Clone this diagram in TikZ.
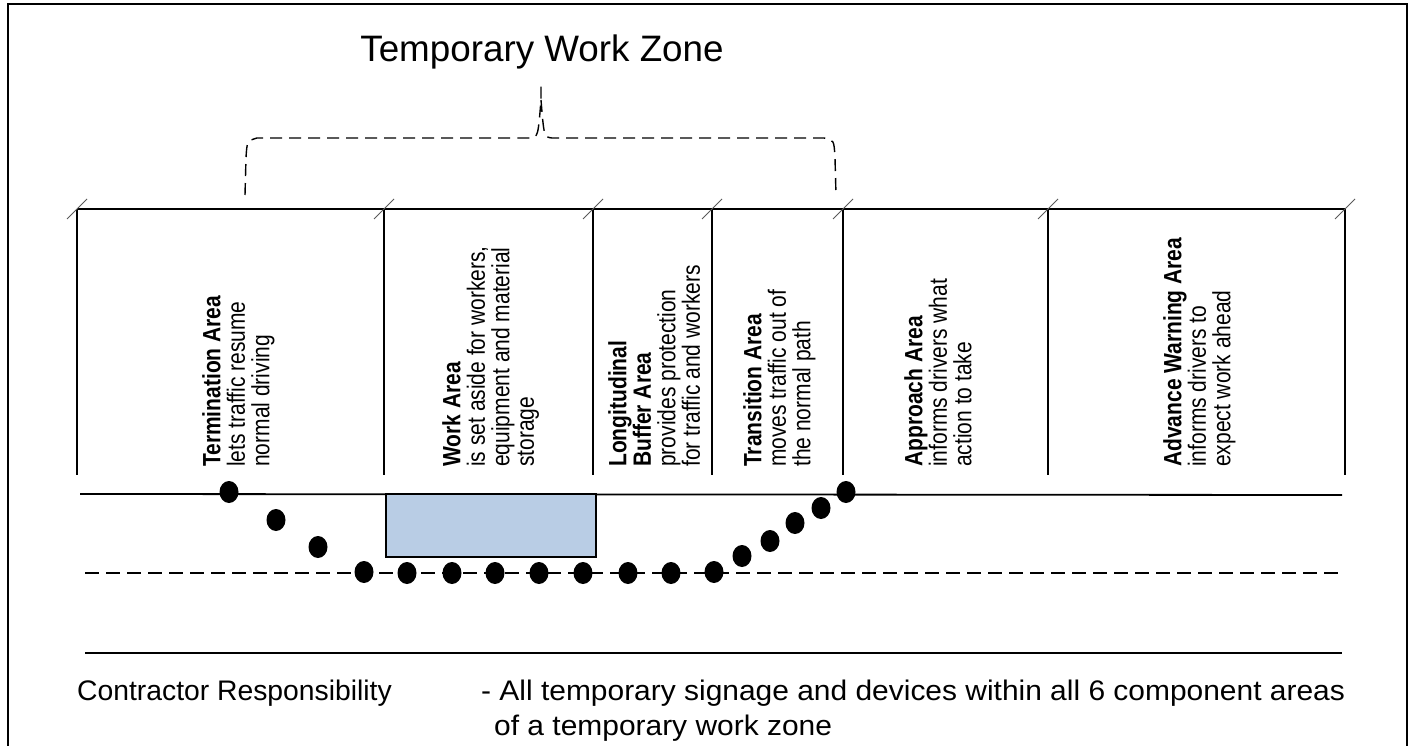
\documentclass[tikz,border=0pt]{standalone}
\usepackage{fontspec}
\setmainfont{Liberation Sans}
\newfontfamily\narrowfont[FakeStretch=0.84]{Liberation Sans}
\newfontfamily\widefont[FakeStretch=1.058]{Liberation Sans}
\usetikzlibrary{shapes.geometric}
\definecolor{workfill}{HTML}{B9CDE5}
\tikzset{
    zone/.style={rotate=90, anchor=north west, inner sep=0pt, align=left,
        font=\narrowfont\fontsize{25}{24.5}\selectfont},
    cone/.style={ellipse, fill=black, inner sep=0pt, minimum width=19pt, minimum height=22pt},
    tick/.style={draw=black!65, line width=1pt},
    road/.style={line width=1.8pt},
    note/.style={anchor=base west, inner sep=0pt, font=\fontsize{28.3}{34}\selectfont}
}
\begin{document}
\begin{tikzpicture}[x=1pt, y=-1pt]
    \useasboundingbox (0,0) rectangle (1411,746);

% frame
    \draw[line width=2.5pt] (8,760) -- (8,4) -- (1407,4) -- (1407,760);

% title and brace
    \node[anchor=base, inner sep=0pt, font=\fontsize{36.8}{40}\selectfont] (title) at (542,62) {Temporary Work Zone};
    \draw[dashed, line width=1.4pt, dash pattern=on 12pt off 7pt]
        (245,195) -- (246,158) .. controls (247,141) .. (257,138) -- (530,138)
        .. controls (538,137) .. (541,100) -- (541,80);
    \draw[dashed, line width=1.4pt, dash pattern=on 12pt off 7pt]
        (541,100) .. controls (544,137) .. (552,138) -- (824,138)
        .. controls (834,140) .. (835,158) -- (836,195);

% top line
    \draw[road] (77,209) -- (1345,209);
% area boundaries
    \draw[road] (77,209) -- (77,475)
                (384,209) -- (384,475)
                (593,209) -- (593,475)
                (712,209) -- (712,475)
                (843,209) -- (843,475)
                (1048,209) -- (1048,475)
                (1345,209) -- (1345,475);
% ticks
    \draw[tick] (67,219) -- (87,199)
                (374,219) -- (394,199)
                (583,219) -- (603,199)
                (702,219) -- (722,199)
                (833,219) -- (853,199)
                (1038,219) -- (1058,199)
                (1335,219) -- (1355,199);

% area labels
    \node[zone] (termination) at (202,467) {\textbf{Termination Area}\\lets traffic resume\\normal driving};
    \node[zone] (work) at (442,467) {\textbf{Work Area}\\is set aside for workers,\\equipment and material\\storage};
    \node[zone] (buffer) at (608,467) {\textbf{Longitudinal}\\\textbf{Buffer Area}\\provides protection\\for traffic and workers};
    \node[zone] (transition) at (743,467) {\textbf{Transition Area}\\moves traffic out of\\the normal path};
    \node[zone] (approach) at (904,467) {\textbf{Approach Area}\\informs drivers what\\action to take};
    \node[zone] (warning) at (1163,467) {\textbf{Advance Warning Area}\\informs drivers to\\expect work ahead};

% road
    \draw[road] (80,494) -- (1342,495);
    \draw[road, dashed, dash pattern=on 14pt off 7pt] (85,573) -- (1342,573);
% work space
    \draw[line width=1.8pt, fill=workfill] (386,494) rectangle (596,557);

% channelizing devices
    \draw   (229,492) node[cone] (c1) {}
            (276,520) node[cone] (c2) {}
            (318,547) node[cone] (c3) {}
            (364,572) node[cone] (c4) {}
            (407,573) node[cone] (c5) {}
            (452,573) node[cone] (c6) {}
            (495,573) node[cone] (c7) {}
            (539,573) node[cone] (c8) {}
            (583,573) node[cone] (c9) {}
            (628,573) node[cone] (c10) {}
            (671,573) node[cone] (c11) {}
            (714,572) node[cone] (c12) {}
            (742,556) node[cone] (c13) {}
            (770,541) node[cone] (c14) {}
            (795,523) node[cone] (c15) {}
            (821,508) node[cone] (c16) {}
            (846,492) node[cone] (c17) {};

% responsibility
    \draw[line width=2.2pt] (85,653) -- (1342,653);
    \node[note] (resp) at (77,700) {Contractor Responsibility};
    \node[note, font=\widefont\fontsize{28.3}{34}\selectfont] (scope1) at (481,700) {- All temporary signage and devices within all 6 component areas};
    \node[note, font=\widefont\fontsize{28.3}{34}\selectfont] (scope2) at (494,735) {of a temporary work zone};
\end{tikzpicture}
\end{document}
